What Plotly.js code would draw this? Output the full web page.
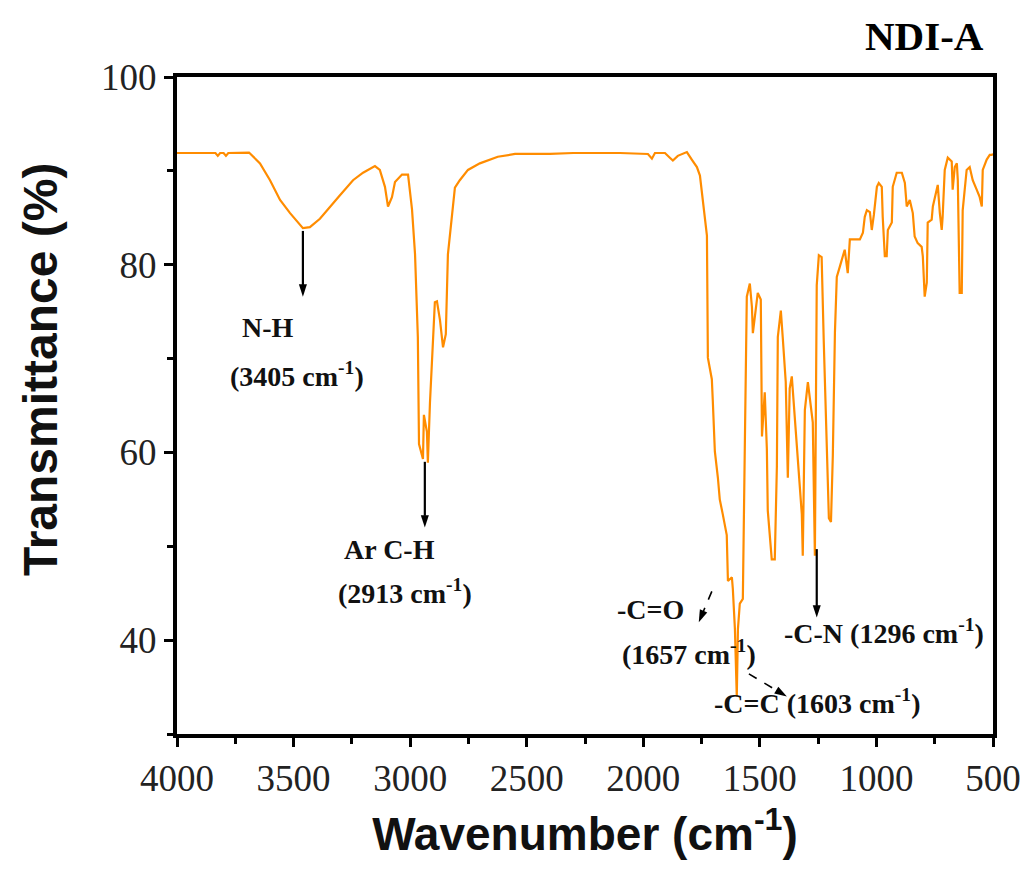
<!DOCTYPE html>
<html>
<head>
<meta charset="utf-8">
<script src="https://cdn.plot.ly/plotly-3.0.1.min.js"></script>
<style>html,body{margin:0;padding:0;background:#fff;}#chart{width:1029px;height:877px;}</style>
</head>
<body>
<div id="chart"></div>
<script>
// Wavenumber (cm-1) and transmittance (%)
const wavenumber = [4000,3900,3835,3825,3815,3800,3790,3780,3691,3644,3601,3558,3515,3460,3430,3387,3344,3301,3245,3202,3151,3130,3108,3095,3078,3065,3035,3009,2992,2979,2967,2962,2945,2941,2928,2924,2915,2902,2894,2885,2872,2859,2847,2838,2821,2808,2787,2752,2701,2658,2624,2550,2400,2300,2100,1980,1963,1950,1907,1886,1873,1852,1822,1813,1792,1779,1770,1757,1744,1727,1723,1706,1702,1693,1680,1672,1659,1642,1637,1620,1616,1607,1599,1594,1586,1573,1564,1556,1543,1534,1530,1517,1509,1496,1491,1479,1470,1466,1449,1436,1427,1423,1410,1402,1389,1380,1372,1363,1354,1341,1329,1320,1316,1307,1294,1286,1273,1264,1256,1247,1235,1226,1213,1204,1195,1187,1178,1170,1157,1144,1136,1123,1114,1071,1058,1050,1041,1028,1020,1011,998,990,977,973,964,956,951,934,930,913,891,878,870,857,844,836,823,806,801,793,784,780,763,758,746,737,728,720,716,707,694,677,673,664,655,651,643,634,630,613,600,587,570,557,548,544,527,514,505,500];
const transmittance = [91.9,91.9,91.9,91.6,91.9,91.9,91.6,91.9,91.95,90.8,89.0,86.9,85.5,83.9,84.0,84.9,86.1,87.4,89.0,89.8,90.5,90.1,88.3,86.2,87.2,88.8,89.6,89.6,85.9,81.1,72.3,60.9,59.3,64.0,62.2,58.9,65.3,71.8,76.0,76.1,74.1,71.2,72.6,81.1,85.3,88.2,89.0,90.1,90.8,91.2,91.5,91.8,91.8,91.9,91.9,91.8,91.3,91.9,91.9,91.4,91.1,91.6,91.9,92.0,91.2,90.8,90.4,89.5,86.5,83.1,70.1,67.8,65.6,60.1,57.3,55.0,53.4,51.2,46.3,46.7,45.5,41.2,34.0,41.2,43.9,44.4,61.7,76.6,78.0,75.5,72.7,75.5,77.0,76.3,61.7,66.4,60.4,53.8,48.6,48.6,58.5,72.3,75.1,72.3,67.5,57.3,66.8,68.1,65.2,60.9,57.3,53.4,49.0,64.5,67.5,66.0,63.2,49.0,77.8,81.0,80.8,71.9,61.3,53.0,52.6,59.7,72.8,78.7,79.8,80.9,81.6,79.1,82.7,82.7,83.4,85.1,85.8,85.6,83.7,85.3,88.3,88.7,88.3,85.1,80.9,80.9,83.7,84.5,88.3,89.8,89.8,88.7,86.2,86.9,85.5,83.0,82.3,81.9,80.9,76.6,78.1,84.5,84.8,86.2,87.7,88.5,85.5,83.7,85.1,90.1,91.4,91.0,88.0,90.4,90.8,89.0,77.0,77.0,85.8,90.1,90.4,89.0,88.0,87.2,86.2,90.1,91.2,91.7,91.7,91.8];

const xTickVals = [4000,3500,3000,2500,2000,1500,1000,500];
const yTickVals = [40,60,80,100];

// Peak labels
const labelTexts = ["N-H","(3405 cm<sup>-1</sup>)","Ar C-H","(2913 cm<sup>-1</sup>)","-C=O","(1657 cm<sup>-1</sup>)","-C=C (1603 cm<sup>-1</sup>)","-C-N (1296 cm<sup>-1</sup>)"];
const labelX = [3610,3485,3087,3022,1967,1805,1256,968];
const labelY = [73.3,68.3,49.7,45.2,43.3,38.7,33.5,40.9];

// Solid arrows: tail (x,y) -> head (x,y)
const arrowTailX = [3460,2937,1256];
const arrowTailY = [83.6,59.0,49.7];
const arrowHeadX = [3460,2937,1256];
const arrowHeadY = [76.6,52.0,42.4];

// Dashed arrows: tail (x,y) -> head (x,y)
const dashTailX = [1706,1547];
const dashTailY = [45.2,36.4];
const dashHeadX = [1762,1384];
const dashHeadY = [41.9,34.0];

const serif = "Liberation Serif, Times New Roman, serif";
const sans = "Liberation Sans, Arial, sans-serif";
const W=1029,H=877,ml=177,mr=36,mt=77,mb=143;
const pw=W-ml-mr, ph=H-mt-mb;

const annotations = [];
labelTexts.forEach((t,i)=>{
  annotations.push({x:labelX[i], y:labelY[i], xref:'x', yref:'y', text:'<b>'+t+'</b>', showarrow:false,
    font:{family:serif, size:28, color:'#111'}});
});
annotations.push({x:(986-ml)/pw, y:1+(mt-36)/ph, xref:'paper', yref:'paper', xanchor:'right', yanchor:'middle',
  text:'<b>NDI-A</b>', showarrow:false, font:{family:serif, size:41, color:'#000'}});
annotations.push({x:(40-ml)/pw, y:1-(370-mt)/ph, xref:'paper', yref:'paper', xanchor:'center', yanchor:'middle',
  text:'<b>Transmittance (%)</b>', textangle:-90, showarrow:false, font:{family:sans, size:48, color:'#111'}});

const traces = [{x:wavenumber, y:transmittance, type:'scatter', mode:'lines',
  line:{color:'#FF8C00', width:2.2}, hoverinfo:'skip'}];

function arrowTrace(x0,y0,x1,y1,dash,lw){
  return {x:[x0,x1], y:[y0,y1], type:'scatter', mode:'lines+markers', hoverinfo:'skip',
    line:{color:'#000', width:lw, dash:dash},
    marker:{symbol:['circle','arrow'], size:[0,13], angleref:'previous', color:'#000', opacity:1, line:{width:0}}};
}
arrowTailX.forEach((x,i)=>traces.push(arrowTrace(x,arrowTailY[i],arrowHeadX[i],arrowHeadY[i],'solid',2.2)));
dashTailX.forEach((x,i)=>traces.push(arrowTrace(x,dashTailY[i],dashHeadX[i],dashHeadY[i],'dash',1.6)));

const layout = {
  width:W, height:H, margin:{l:ml, r:mr, t:mt, b:mb},
  paper_bgcolor:'#fff', plot_bgcolor:'#fff', showlegend:false,
  xaxis:{range:[4000,500], tickvals:xTickVals, ticks:'outside', ticklen:9, tickwidth:3, tickcolor:'#000',
    showline:true, linewidth:4, linecolor:'#000', mirror:true, showgrid:false, zeroline:false,
    minor:{dtick:250, ticks:'outside', ticklen:6, tickwidth:3, tickcolor:'#000', showgrid:false},
    tickfont:{family:serif, size:37, color:'#222'},
    title:{text:'<b>Wavenumber (cm<sup>-1</sup>)</b>', font:{family:sans, size:46, color:'#111'}, standoff:20}},
  yaxis:{range:[30,100], tickvals:yTickVals, ticks:'outside', ticklen:9, tickwidth:3, tickcolor:'#000',
    showline:true, linewidth:4, linecolor:'#000', mirror:true, showgrid:false, zeroline:false,
    minor:{dtick:10, ticks:'outside', ticklen:6, tickwidth:3, tickcolor:'#000', showgrid:false},
    tickfont:{family:serif, size:37, color:'#222'}},
  annotations:annotations
};
Plotly.newPlot('chart',traces,layout,{staticPlot:true, displayModeBar:false});
</script>
</body>
</html>
